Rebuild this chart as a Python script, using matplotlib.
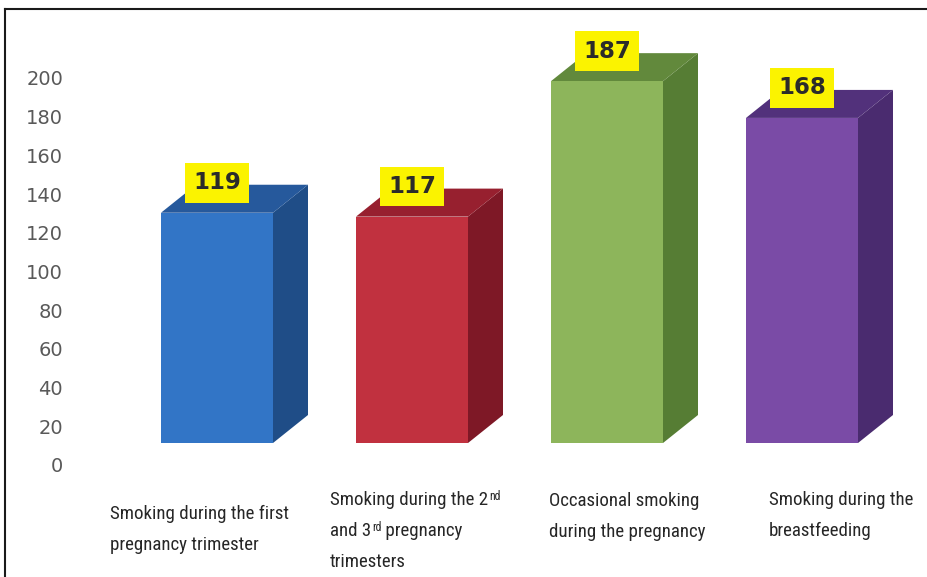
import matplotlib
matplotlib.use("Agg")
import re
import matplotlib.pyplot as plt
from matplotlib.patches import Polygon
from matplotlib.lines import Line2D
from matplotlib import font_manager

# ---- data ----
# "^{..}" marks superscript text inside a category name
categories = [
    "Smoking during the first\npregnancy trimester",
    "Smoking during the 2^{nd}\nand 3^{rd} pregnancy\ntrimesters",
    "Occasional smoking\nduring the pregnancy",
    "Smoking during the\nbreastfeeding",
]
values = [119, 117, 187, 168]
yticks = [0, 20, 40, 60, 80, 100, 120, 140, 160, 180, 200]
ytick_labels = [str(t) for t in yticks]

# ---- styling ----
front_colors = ["#3275c6", "#c1313f", "#8db55b", "#7a4ba6"]
side_colors = ["#1f4d87", "#7e1826", "#567d34", "#4a2b6f"]
top_colors = ["#26599c", "#97202f", "#62893c", "#52317b"]


def pick_font(names):
    for n in names:
        try:
            font_manager.findfont(n, fallback_to_default=False)
            return n
        except Exception:
            continue
    return "DejaVu Sans"


cat_font = pick_font(["Liberation Sans Narrow", "Roboto Condensed", "Open Sans Condensed", "Liberation Sans"])

W, H, DPI = 928, 577, 100
fig = plt.figure(figsize=(W / DPI, H / DPI), dpi=DPI, facecolor="white")

# axes geometry (pixels): value 0 at y=465, 200 at y=78; category spacing 195 px
px_per_unit = (465 - 78) / 200.0
left_px = 70
ax = fig.add_axes([left_px / W, 0, (W - left_px) / W, 1])
ax.set_ylim((465 - H) / px_per_unit, 465 / px_per_unit)
ax.set_xlim((left_px - 217) / 195.0, (W - 217) / 195.0)
for s in ax.spines.values():
    s.set_visible(False)
ax.set_facecolor("white")
ax.set_xticks([])
ax.set_yticks(yticks)
ax.set_yticklabels(ytick_labels)
ax.tick_params(axis="y", length=0, pad=5, labelsize=14, labelcolor="#595959")

BASE = 22 / px_per_unit      # floor offset of the front faces
BAR_W = 112 / 195.0
DX = 35 / 195.0              # depth offset (x)
DY = 28 / px_per_unit        # depth offset (y)

xs = list(range(len(values)))
ax.bar(xs, values, bottom=BASE, width=BAR_W, color=front_colors, edgecolor="none", zorder=3)

for x, v, sc, tc in zip(xs, values, side_colors, top_colors):
    r = x + BAR_W / 2
    l = x - BAR_W / 2
    top = BASE + v
    side = Polygon([(r, BASE), (r + DX, BASE + DY), (r + DX, top + DY), (r, top)],
                   closed=True, facecolor=sc, edgecolor="none", zorder=2)
    lid = Polygon([(l, top), (l + DX, top + DY), (r + DX, top + DY), (r, top)],
                  closed=True, facecolor=tc, edgecolor="none", zorder=2)
    ax.add_patch(side)
    ax.add_patch(lid)
    ax.text(x, top + DY + 1, str(v), ha="center", va="center", fontsize=16.5,
            fontweight="bold", color="#2b2b2b", zorder=5,
            bbox=dict(boxstyle="square,pad=0.36", facecolor="#fbf300", edgecolor="none"))

# category labels, left-aligned under each bar (baseline of each line in pixels)
label_left_px = [110, 330, 549, 769]
label_baselines_px = [[519, 550], [505, 536, 567], [506, 537], [505, 536]]
CAT_SIZE = 13.6
cat_style = dict(family=cat_font, color="#262626", zorder=5)


def draw_line(xd, yd, line):
    parts = re.split(r"(\^\{[^}]*\})", line)
    prev = None
    base_anchor = None
    for part in parts:
        if not part:
            continue
        if part.startswith("^{"):
            sup = part[2:-1]
            prev = ax.annotate(sup, xy=(1, 1), xycoords=prev, ha="left", va="top",
                               fontsize=CAT_SIZE * 0.62, xytext=(0.5, 1), textcoords="offset points",
                               **cat_style)
        elif prev is None:
            prev = ax.text(xd, yd, part, ha="left", va="baseline", fontsize=CAT_SIZE, **cat_style)
            base_anchor = prev
        else:
            prev = ax.annotate(part, xy=(1, 0), xycoords=(prev, base_anchor), ha="left",
                               va="bottom", fontsize=CAT_SIZE, **cat_style)


for lx, bls, txt in zip(label_left_px, label_baselines_px, categories):
    for line, bl in zip(txt.split("\n"), bls):
        draw_line((lx - 217) / 195.0, (465 - bl) / px_per_unit, line)

# frame lines
fig.add_artist(Line2D([5.5 / W, 5.5 / W], [0, 1 - 9 / H], color="#1a1a1a", lw=1.5,
                      transform=fig.transFigure))
fig.add_artist(Line2D([5 / W, 1], [1 - 9 / H, 1 - 9 / H], color="#1a1a1a", lw=1.5,
                      transform=fig.transFigure))

fig.savefig("out.png", dpi=DPI, facecolor="white")
